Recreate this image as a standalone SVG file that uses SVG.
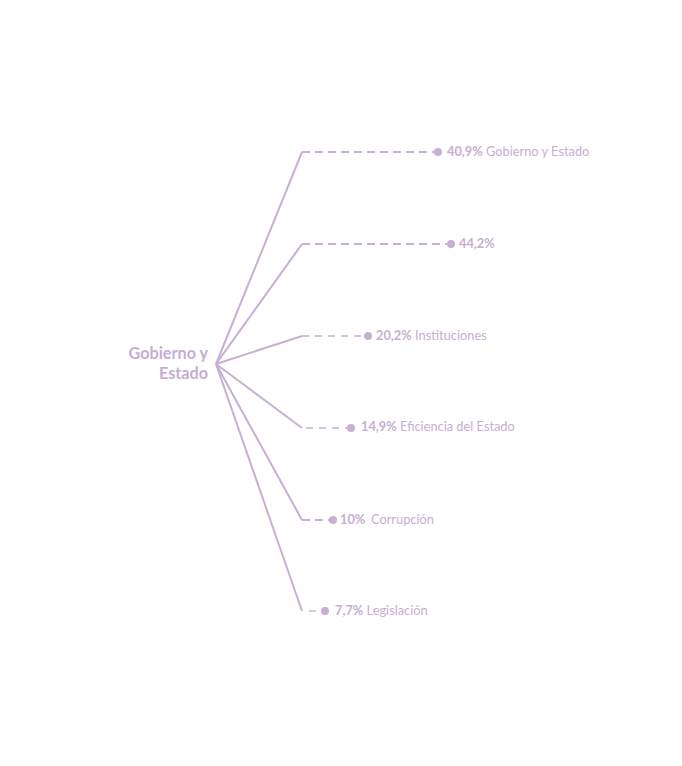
<svg xmlns="http://www.w3.org/2000/svg" width="682" height="766" viewBox="0 0 682 766">
<style>
.link{fill:none;stroke:#c8b0d4;stroke-width:2}
.dash{fill:none;stroke:#c8b0d4;stroke-width:2;stroke-dasharray:8 5}
.dash.thin{stroke-width:1.4;stroke-dasharray:7 6}
.dot{fill:#c8b0d4}
text{font-family:Lato,"Noto Sans","Liberation Sans",sans-serif;fill:#c6aed2}
.lbl{font-size:12.8px}
.b{font-weight:bold}
.root{font-size:16.2px;font-weight:bold;text-anchor:end}
</style>
<rect width="682" height="766" fill="#ffffff"/>
<g id="connectors">
<path class="link" d="M216 364 L302 152"/>
<path class="link" d="M216 364 L302 244"/>
<path class="link" d="M216 364 L302 336"/>
<path class="link" d="M216 364 L302 428"/>
<path class="link" d="M216 364 L302 520"/>
<path class="link" d="M216 364 L302 611"/>
<path class="dash" d="M302 152 H438"/>
<path class="dash" d="M302 244 H451"/>
<path class="dash thin" d="M302 336 H368"/>
<path class="dash thin" d="M306 428 H351"/>
<path class="dash" d="M302 520 H333"/>
<path class="dash thin" d="M309 611 H317"/>
</g>
<g id="root"><text class="root" x="208" y="359">Gobierno y</text><text class="root" x="208" y="379">Estado</text></g>
<g id="n1"><circle class="dot" cx="438" cy="152" r="4"/><text class="lbl" x="447" y="156"><tspan class="b">40,9%</tspan> Gobierno y Estado</text></g>
<g id="n2"><circle class="dot" cx="451" cy="244" r="4"/><text class="lbl" x="459" y="248"><tspan class="b">44,2%</tspan></text></g>
<g id="n3"><circle class="dot" cx="368" cy="336" r="4"/><text class="lbl" x="376" y="340"><tspan class="b">20,2%</tspan> Instituciones</text></g>
<g id="n4"><circle class="dot" cx="351" cy="428" r="4"/><text class="lbl" x="361" y="431"><tspan class="b">14,9%</tspan> Eficiencia del Estado</text></g>
<g id="n5"><circle class="dot" cx="333" cy="520" r="4"/><text class="lbl" x="340" y="524"><tspan class="b">10%</tspan><tspan x="371">Corrupción</tspan></text></g>
<g id="n6"><circle class="dot" cx="325" cy="611" r="4"/><text class="lbl" x="335" y="615"><tspan class="b">7,7%</tspan> Legislación</text></g>
</svg>
